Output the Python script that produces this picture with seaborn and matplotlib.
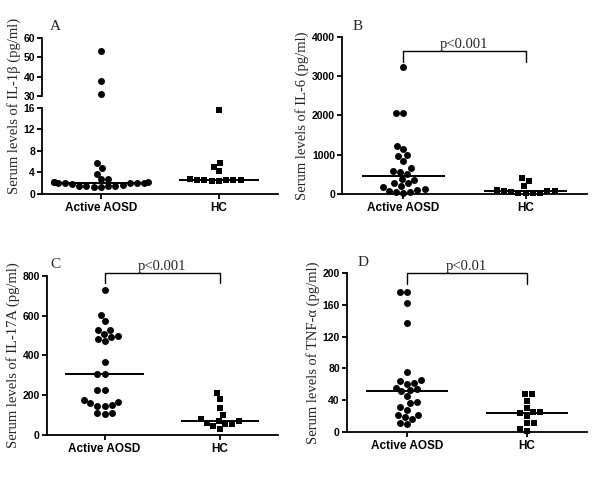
import numpy as np
import pandas as pd
import matplotlib
matplotlib.use("Agg")
import matplotlib.pyplot as plt
import seaborn as sns

# (pg/ml), Active AOSD n=24, HC n=12
groups = ["Active AOSD", "HC"]

il1b_aosd = [53.3, 37.6, 30.9, 5.7, 4.8, 3.8, 2.8, 2.7, 2.3, 2.2, 2.2, 2.1,
             2.1, 2.1, 2.0, 2.0, 1.9, 1.6, 1.5, 1.5, 1.4, 1.4, 1.3, 1.3]
il1b_hc = [15.6, 5.8, 5.1, 4.2, 2.7, 2.6, 2.6, 2.5, 2.5, 2.5, 2.4, 2.4]

il6_aosd = [3247, 2074, 2058, 1224, 1139, 995, 969, 850, 655, 595, 553, 510,
            382, 357, 273, 273, 204, 187, 120, 102, 85, 59, 59, 34]
il6_hc = [400, 331, 204, 94, 76, 76, 76, 59, 34, 34, 34, 34]

il17_aosd = [729, 604, 573, 528, 528, 510, 498, 493, 485, 473, 369, 305,
             305, 226, 226, 174, 168, 159, 151, 146, 146, 112, 109, 104]
il17_hc = [210, 179, 134, 101, 80, 72, 72, 59, 55, 55, 45, 30]

tnf_aosd = [176.5, 176.5, 163, 137, 75, 66, 64, 62, 61, 56, 54, 53,
            51, 45, 38, 36, 32, 28, 21, 21, 19, 16, 11, 9.6]
tnf_hc = [47.8, 47.8, 39.4, 29.8, 25.6, 24.7, 23.5, 20.5, 10.9, 10.9, 3.4, 1.7]

sns.set_theme(style="ticks")
plt.rcParams["font.family"] = ["Liberation Sans", "DejaVu Sans"]
SERIF = ["Liberation Serif", "DejaVu Serif"]
MARKERS = {"Active AOSD": "o", "HC": "s"}


def long_df(aosd, hc):
    return pd.DataFrame({
        "group": ["Active AOSD"] * len(aosd) + ["HC"] * len(hc),
        "value": list(aosd) + list(hc),
    })


def draw_points(ax, df):
    """Column scatter, circles for patients and squares for controls."""
    for grp in groups:
        sub = df[df["group"] == grp]
        if sub.empty:
            continue
        sns.swarmplot(data=sub, x="group", y="value", order=groups,
                      marker=MARKERS[grp], color="black", size=5.0,
                      linewidth=0, ax=ax, clip_on=False, zorder=3)
    ax.set_xlim(-0.5, 1.5)


def draw_medians(ax, df):
    for i, grp in enumerate(groups):
        med = df.loc[df["group"] == grp, "value"].median()
        ax.hlines(med, i - 0.34, i + 0.34, color="black", lw=1.4, zorder=4)


def style(ax, yticks):
    sns.despine(ax=ax)
    for s in ["left", "bottom"]:
        ax.spines[s].set_linewidth(1.3)
        ax.spines[s].set_color("black")
    ax.set_yticks(yticks)
    ax.set_ylim(yticks[0], yticks[-1])
    ax.tick_params(width=1.3, length=3.5, pad=1.5, colors="black")
    ax.tick_params(axis="y", labelsize=7.5)
    ax.tick_params(axis="x", labelsize=8.5, pad=2)
    for lbl in ax.get_xticklabels() + ax.get_yticklabels():
        lbl.set_fontweight("bold")
    ax.set_xlabel("")
    ax.set_ylabel("")


def bracket(ax, y_top, y_end, text):
    ax.plot([0, 0, 1, 1], [y_end, y_top, y_top, y_end], color="black",
            lw=1.0, clip_on=False)
    ax.text(0.5, y_top, text, ha="center", va="bottom", fontsize=10.5,
            family=SERIF)


fig = plt.figure(figsize=(6, 4.8), dpi=100)

# Panel A: broken y axis (0-16 below, 30-60 above)
df_a = long_df(il1b_aosd, il1b_hc)
ax_a_lo = fig.add_axes([0.070, 0.596, 0.393, 0.179])
ax_a_hi = fig.add_axes([0.070, 0.800, 0.393, 0.121])
draw_points(ax_a_lo, df_a[df_a["value"] < 20])
draw_medians(ax_a_lo, df_a)
style(ax_a_lo, [0, 4, 8, 12, 16])
draw_points(ax_a_hi, df_a[df_a["value"] >= 20])
style(ax_a_hi, [30, 40, 50, 60])
ax_a_hi.spines["bottom"].set_visible(False)
ax_a_hi.tick_params(axis="x", bottom=False, labelbottom=False)
fig.text(14 / 600, 1 - 106 / 480, "Serum levels of IL-1β (pg/ml)",
         rotation=90, ha="center", va="center", fontsize=10.5, family=SERIF)

# Panel B
df_b = long_df(il6_aosd, il6_hc)
ax_b = fig.add_axes([0.570, 0.596, 0.408, 0.327])
draw_points(ax_b, df_b)
draw_medians(ax_b, df_b)
style(ax_b, [0, 1000, 2000, 3000, 4000])
bracket(ax_b, 3650, 3370, "p<0.001")
ax_b.set_ylabel("Serum levels of IL-6 (pg/ml)", fontsize=10.5, family=SERIF,
                labelpad=2)

# Panel C
df_c = long_df(il17_aosd, il17_hc)
ax_c = fig.add_axes([0.078, 0.094, 0.385, 0.331])
draw_points(ax_c, df_c)
draw_medians(ax_c, df_c)
style(ax_c, [0, 200, 400, 600, 800])
bracket(ax_c, 813, 763, "p<0.001")
ax_c.set_ylabel("Serum levels of IL-17A (pg/ml)", fontsize=10.5, family=SERIF,
                labelpad=2)

# Panel D
df_d = long_df(tnf_aosd, tnf_hc)
ax_d = fig.add_axes([0.578, 0.100, 0.400, 0.331])
draw_points(ax_d, df_d)
draw_medians(ax_d, df_d)
style(ax_d, [0, 40, 80, 120, 160, 200])
bracket(ax_d, 200, 186, "p<0.01")
ax_d.set_ylabel("Serum levels of TNF-α (pg/ml)", fontsize=10.5, family=SERIF,
                labelpad=2)

# panel letters
for letter, x, y in [("A", 55, 27), ("B", 358, 27), ("C", 55, 265), ("D", 363, 263)]:
    fig.text(x / 600, 1 - y / 480, letter, ha="center", va="center",
             fontsize=11, family=SERIF)

fig.savefig("out.png", dpi=100)
